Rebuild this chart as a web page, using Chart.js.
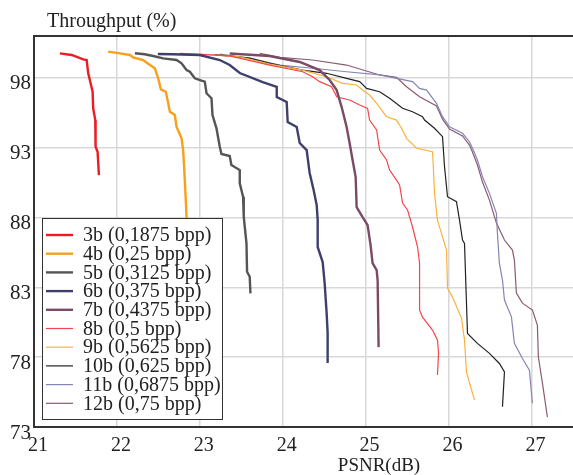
<!DOCTYPE html>
<html>
<head>
<meta charset="utf-8">
<script src="https://cdn.jsdelivr.net/npm/chart.js@4.4.0/dist/chart.umd.min.js"></script>
<style>
  html, body { margin: 0; padding: 0; background: #fff; overflow: hidden; }
  canvas { display: block; }
</style>
</head>
<body>
<canvas id="chart" width="577" height="475"></canvas>
<script>
// tick values
const xTicks = [21, 22, 23, 24, 25, 26, 27];
const yTicks = [73, 78, 83, 88, 93, 98];

const labels = ['3b (0,1875 bpp)', '4b (0,25 bpp)', '5b (0,3125 bpp)', '6b (0,375 bpp)', '7b (0,4375 bpp)',
    '8b (0,5 bpp)', '9b (0,5625 bpp)', '10b (0,625 bpp)', '11b (0,6875 bpp)', '12b (0,75 bpp)'];

// PSNR (dB) / Throughput (%) per curve
const psnr3b = [21.313, 21.454, 21.594, 21.635, 21.654, 21.683, 21.707, 21.714, 21.739, 21.743, 21.767, 21.783];
const thr3b  = [99.76, 99.64, 99.33, 99.28, 98.33, 97.61, 97.01, 95.82, 94.98, 93.07, 92.71, 91.04];

const psnr4b = [21.895, 22.036, 22.157, 22.196, 22.317, 22.398, 22.458, 22.498, 22.530, 22.590, 22.611, 22.639, 22.699, 22.719, 22.780, 22.799, 22.811, 22.831, 22.840, 22.843];
const thr4b  = [99.88, 99.76, 99.64, 99.47, 99.28, 98.92, 98.69, 97.97, 97.18, 97.01, 96.42, 95.58, 95.34, 94.50, 93.67, 92.83, 91.64, 89.25, 88.06, 86.75];

const psnr5b = [22.217, 22.337, 22.437, 22.558, 22.719, 22.780, 22.840, 22.880, 22.940, 23.020, 23.060, 23.081, 23.141, 23.153, 23.201, 23.241, 23.261, 23.361, 23.381, 23.482, 23.482, 23.522, 23.530, 23.563, 23.570, 23.602, 23.611];
const thr5b  = [99.76, 99.69, 99.57, 99.40, 99.28, 99.04, 98.56, 98.44, 97.97, 97.80, 97.73, 96.90, 96.54, 95.34, 94.39, 93.07, 92.55, 92.40, 91.76, 91.40, 90.45, 89.49, 88.06, 86.15, 84.12, 83.76, 82.57];

const psnr6b = [22.494, 22.675, 23.000, 23.241, 23.361, 23.482, 23.759, 23.928, 23.928, 24.048, 24.060, 24.169, 24.205, 24.289, 24.325, 24.373, 24.410, 24.422, 24.422, 24.482, 24.506, 24.530, 24.542, 24.542];
const thr6b  = [99.71, 99.69, 99.64, 99.28, 98.92, 98.35, 97.70, 97.35, 96.63, 96.27, 94.84, 94.48, 93.34, 92.83, 91.19, 89.97, 88.89, 87.82, 85.89, 84.81, 83.31, 81.16, 79.73, 77.58];

const psnr7b = [23.361, 23.843, 24.205, 24.446, 24.566, 24.651, 24.711, 24.771, 24.807, 24.843, 24.880, 24.892, 24.964, 25.024, 25.060, 25.084, 25.133, 25.145, 25.157];
const thr7b  = [99.75, 99.57, 99.14, 98.56, 97.85, 97.13, 95.91, 94.48, 93.34, 92.12, 90.90, 88.75, 88.03, 87.46, 86.03, 84.74, 84.24, 83.52, 78.72];

const psnr8b = [22.759, 23.361, 23.843, 24.241, 24.361, 24.446, 24.590, 24.651, 24.807, 24.928, 25.024, 25.048, 25.133, 25.169, 25.253, 25.289, 25.373, 25.410, 25.446, 25.506, 25.566, 25.627, 25.651, 25.651, 25.687, 25.807, 25.867, 25.880, 25.867];
const thr8b  = [99.75, 99.57, 98.92, 98.44, 98.08, 97.73, 97.37, 96.65, 96.42, 96.06, 95.82, 94.98, 94.27, 92.83, 92.12, 91.40, 90.68, 90.33, 89.04, 88.54, 87.32, 85.89, 84.74, 81.37, 80.87, 79.94, 79.22, 78.29, 76.72];

const psnr9b = [23.000, 23.482, 23.843, 24.241, 24.530, 24.723, 24.892, 24.964, 25.048, 25.133, 25.253, 25.373, 25.434, 25.494, 25.614, 25.807, 25.819, 25.831, 25.867, 25.928, 25.976, 25.988, 26.048, 26.157, 26.193, 26.217, 26.289, 26.313];
const thr9b  = [99.71, 99.50, 98.99, 98.56, 98.08, 97.61, 97.49, 97.13, 96.77, 96.18, 95.22, 94.98, 94.39, 93.67, 92.96, 92.71, 91.40, 89.75, 87.82, 86.62, 85.67, 82.95, 82.30, 80.80, 79.22, 76.93, 75.43, 74.93];

const psnr10b = [23.181, 23.602, 23.843, 24.241, 24.530, 24.771, 24.928, 25.012, 25.169, 25.289, 25.446, 25.566, 25.687, 25.711, 25.831, 25.928, 25.952, 25.988, 26.096, 26.133, 26.169, 26.193, 26.229, 26.349, 26.494, 26.614, 26.675, 26.651];
const thr10b  = [99.67, 99.42, 99.04, 98.56, 98.33, 97.97, 97.73, 97.25, 97.01, 96.54, 95.82, 95.58, 95.22, 94.98, 94.39, 93.79, 91.64, 89.49, 89.13, 87.82, 86.39, 86.15, 79.70, 78.99, 78.27, 77.55, 76.95, 74.45];

const psnr11b = [23.241, 23.602, 23.964, 24.361, 24.771, 25.169, 25.566, 25.651, 25.735, 25.855, 25.928, 26.012, 26.169, 26.253, 26.289, 26.349, 26.410, 26.494, 26.578, 26.590, 26.614, 26.651, 26.675, 26.759, 26.795, 26.892, 26.976, 27.012];
const thr11b  = [99.71, 99.42, 98.92, 98.69, 98.44, 98.21, 97.73, 97.25, 97.13, 96.18, 95.22, 94.50, 94.03, 93.43, 92.96, 92.12, 90.92, 89.73, 88.30, 86.87, 84.72, 83.52, 82.09, 80.89, 78.99, 77.91, 77.07, 74.69];

const psnr12b = [23.723, 23.964, 24.361, 24.771, 25.169, 25.373, 25.494, 25.651, 25.855, 25.928, 26.012, 26.169, 26.253, 26.289, 26.349, 26.410, 26.494, 26.578, 26.675, 26.771, 26.795, 26.819, 26.892, 27.012, 27.072, 27.084, 27.133, 27.193];
const thr12b  = [99.75, 99.47, 99.28, 98.92, 98.21, 98.04, 97.37, 96.65, 95.99, 95.05, 94.34, 93.84, 93.19, 92.69, 91.76, 90.54, 89.25, 87.60, 86.39, 85.67, 84.95, 82.59, 81.87, 81.37, 80.30, 78.01, 76.14, 73.71];

const psnrs = [psnr3b, psnr4b, psnr5b, psnr6b, psnr7b, psnr8b, psnr9b, psnr10b, psnr11b, psnr12b];
const thrs = [thr3b, thr4b, thr5b, thr6b, thr7b, thr8b, thr9b, thr10b, thr11b, thr12b];

const colors = ['#ec1c24', '#f8a01c', '#555555', '#3f3f6c', '#7b4a64', '#f2454c', '#fbb23c', '#222222', '#8585b5', '#8c5a72'];
const widths = [2.4, 2.4, 2.4, 2.4, 2.4, 1.2, 1.2, 1.2, 1.2, 1.2];

const serif = "'Liberation Serif', 'DejaVu Serif', serif";

const datasets = labels.map((label, i) => ({
    label: label,
    data: psnrs[i].map((x, k) => ({ x: x, y: thrs[i][k] })),
    borderColor: colors[i],
    backgroundColor: colors[i],
    borderWidth: widths[i],
    pointRadius: 0,
    tension: 0,
    fill: false,
}));

// only draw grid lines on the real ticks
const gridColor = (ctx) => (ctx.tick && (xTicks.includes(ctx.tick.value) || yTicks.includes(ctx.tick.value)) ? '#d8d8d8' : 'rgba(0,0,0,0)');

// frame top line, texts and boxed legend
const decorPlugin = {
    id: 'decor',
    afterDatasetsDraw(chart) {
        const ctx = chart.ctx;
        const area = chart.chartArea;
        ctx.save();
        ctx.strokeStyle = '#333';
        ctx.lineWidth = 2;
        ctx.beginPath();
        ctx.moveTo(area.left, area.top);
        ctx.lineTo(chart.width, area.top);
        ctx.stroke();

        ctx.fillStyle = '#222';
        ctx.font = '20px ' + serif;
        ctx.textBaseline = 'alphabetic';
        ctx.textAlign = 'left';
        ctx.fillText('Throughput (%)', 47, 27);
        ctx.font = '19px ' + serif;
        ctx.textAlign = 'center';
        ctx.fillText('PSNR(dB)', 379, 471);

        // legend
        const bx = 42, by = 218, bw = 180, bh = 201;
        ctx.fillStyle = '#fff';
        ctx.fillRect(bx, by, bw, bh);
        ctx.strokeStyle = '#333';
        ctx.lineWidth = 1;
        ctx.strokeRect(bx + 0.5, by + 0.5, bw, bh);
        ctx.font = '20px ' + serif;
        ctx.textAlign = 'left';
        ctx.textBaseline = 'middle';
        chart.data.datasets.forEach((ds, i) => {
            const y = 235 + i * 18.7;
            ctx.strokeStyle = ds.borderColor;
            ctx.lineWidth = ds.borderWidth;
            ctx.beginPath();
            ctx.moveTo(46, y);
            ctx.lineTo(73, y);
            ctx.stroke();
            ctx.fillStyle = '#222';
            ctx.fillText(ds.label, 83, y + 1);
        });
        ctx.restore();
    },
};

new Chart(document.getElementById('chart'), {
    type: 'line',
    data: { datasets: datasets },
    options: {
        responsive: false,
        animation: false,
        layout: { padding: { top: 36, left: 0, right: 0, bottom: 0 } },
        plugins: {
            legend: { display: false },
            tooltip: { enabled: false },
        },
        scales: {
            x: {
                type: 'linear',
                min: 21,
                max: 27.55,
                afterBuildTicks: (scale) => { scale.ticks = xTicks.map(v => ({ value: v })); },
                afterFit: (scale) => { scale.height = 48; },
                grid: { color: gridColor, lineWidth: 1.5, drawTicks: false },
                border: { color: '#333', width: 2 },
                ticks: {
                    color: '#222',
                    font: { family: serif, size: 20 },
                    padding: 7,
                    labelOffset: 4,
                    maxRotation: 0,
                    autoSkip: false,
                },
            },
            y: {
                type: 'linear',
                min: 73,
                max: 101,
                afterBuildTicks: (scale) => { scale.ticks = yTicks.map(v => ({ value: v })); },
                afterFit: (scale) => { scale.width = 34; },
                grid: { color: gridColor, lineWidth: 1.5, drawTicks: false },
                border: { color: '#333', width: 2 },
                ticks: {
                    color: '#222',
                    font: { family: serif, size: 21 },
                    padding: 3,
                    labelOffset: 6,
                    autoSkip: false,
                },
            },
        },
    },
    plugins: [decorPlugin],
});
</script>
</body>
</html>
